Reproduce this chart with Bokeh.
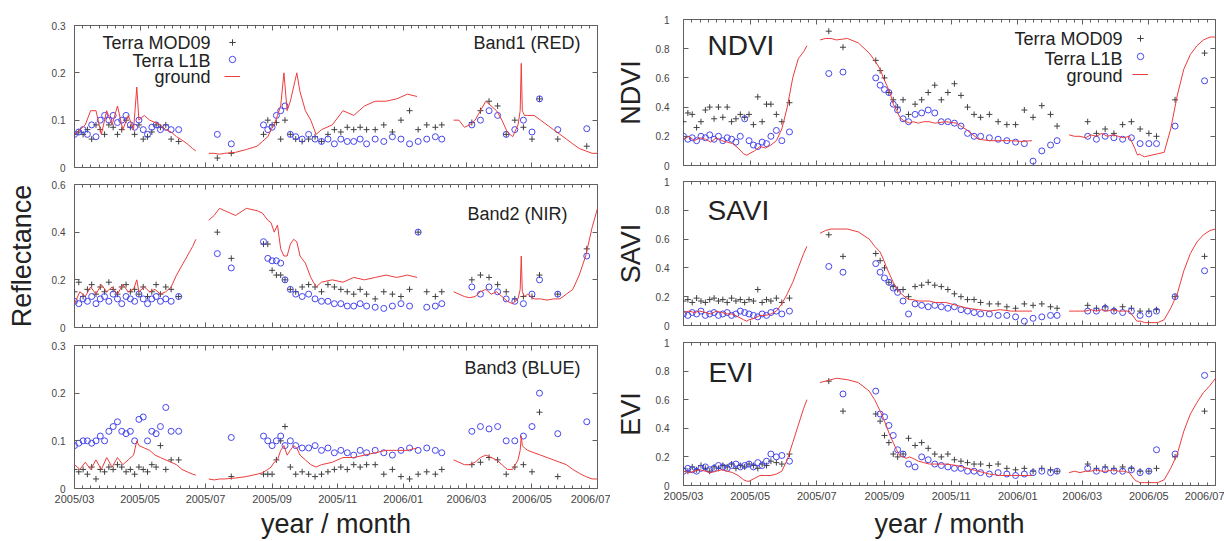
import math
from bokeh.plotting import figure
from bokeh.layouts import row, column
from bokeh.models import (Range1d, FixedTicker, LinearAxis, Label, Legend, LegendItem,
                          NumeralTickFormatter, CustomJSTickFormatter)
from bokeh.embed import file_html
from bokeh.resources import INLINE

NaN = float("nan")
FONT = "Liberation Sans"

# x axis: days since 2005-03-01
month_days = [0, 61, 122, 184, 245, 306, 365, 426, 487]
month_labels = ["2005/03", "2005/05", "2005/07", "2005/09", "2005/11",
                "2006/01", "2006/03", "2006/05", "2006/07"]

obs_days = [0, 4, 8, 12, 16, 20, 24, 28, 32, 36, 40, 44, 48, 52, 56, 60, 64, 68, 72, 76, 80, 85, 90, 97,
            133, 146,
            176, 180, 184, 188, 192, 196,
            201, 206, 212, 218, 224, 230, 236, 242, 248, 254, 260, 266, 272, 280, 288, 296, 304, 312, 320, 328, 336, 342,
            370, 378, 386, 394, 402, 410, 418, 426, 433, 450, 477]

ground_days = [0, 5, 10, 15, 20, 25, 30, 35, 40, 45, 50, 55, 58, 60, 65, 70, 75, 80, 85, 90, 95, 100, 105, 110, 113,
               125, 130, 135, 140, 150, 160, 170, 175, 180, 183, 186, 189, 192, 195, 198, 201, 204, 207, 210, 215,
               220, 225, 230, 240, 250, 260, 270, 280, 290, 300, 310, 319,
               353, 358, 363, 368, 373, 378, 383, 388, 393, 398, 403, 408, 413, 415, 416, 417, 419, 422, 428, 434,
               440, 446, 452, 458, 464, 470, 476, 482, 487]

# ---------------- Band1 (RED) ----------------
red_mod09 = [0.07, 0.075, 0.07, 0.08, 0.06, 0.09, 0.08, 0.07, 0.09, 0.085, 0.07, 0.08, 0.1, 0.085, 0.07, 0.09, 0.06, 0.065, 0.075, 0.09, 0.085, 0.09, 0.06, 0.055,
             0.02, 0.03,
             0.07, 0.1, 0.09, 0.095, 0.06, 0.1,
             0.07, 0.06, 0.055, 0.06, 0.065, 0.055, 0.07, 0.08, 0.075, 0.085, 0.08, 0.085, 0.08, 0.08, 0.09, 0.075, 0.1, 0.12, 0.08, 0.09, 0.085, 0.09,
             0.095, 0.12, 0.14, 0.13, 0.07, 0.1, 0.085, 0.06, 0.145, 0.06, 0.045]
red_l1b = [0.07, 0.075, 0.08, 0.07, 0.09, 0.065, 0.1, 0.11, 0.1, 0.11, 0.095, 0.1, 0.11, 0.09, 0.085, 0.1, 0.08, 0.07, 0.085, 0.09, 0.08, 0.085, 0.08, 0.08,
           0.07, 0.05,
           0.09, 0.08, 0.085, 0.11, 0.12, 0.13,
           0.07, 0.065, 0.06, 0.07, 0.06, 0.055, 0.06, 0.05, 0.06, 0.055, 0.055, 0.06, 0.05, 0.06, 0.055, 0.065, 0.06, 0.05, 0.055, 0.06, 0.065, 0.06,
           0.09, 0.1, 0.12, 0.11, 0.07, 0.08, 0.1, 0.075, 0.145, 0.08, 0.082]
red_ground = [0.07, 0.08, 0.09, 0.12, 0.12, 0.07, 0.12, 0.09, 0.13, 0.08, 0.11, 0.08, 0.17, 0.1, 0.11, 0.1, 0.095, 0.09, 0.08, 0.075, 0.065, 0.058, 0.05, 0.04, 0.035,
              0.03, 0.03, 0.028, 0.03, 0.032, 0.038, 0.045, 0.055, 0.065, 0.08, 0.09, 0.11, 0.13, 0.2, 0.12, 0.14, 0.17, 0.2, 0.16, 0.12,
              0.1, 0.07, 0.08, 0.09, 0.12, 0.11, 0.13, 0.14, 0.14, 0.145, 0.155, 0.15,
              0.1, 0.1, 0.085, 0.09, 0.1, 0.12, 0.14, 0.13, 0.12, 0.1, 0.075, 0.065, 0.09, 0.12, 0.22, 0.12, 0.11, 0.11, 0.11, 0.1,
              0.09, 0.08, 0.07, 0.06, 0.05, 0.04, 0.035, 0.03, 0.03]

# ---------------- Band2 (NIR) ----------------
nir_mod09 = [0.15, 0.19, 0.13, 0.16, 0.18, 0.14, 0.17, 0.15, 0.19, 0.16, 0.14, 0.17, 0.18, 0.15, 0.16, 0.14, 0.17, 0.13, 0.15, 0.18, 0.14, 0.17, 0.16, 0.13,
             0.4, 0.29,
             0.35, 0.35, 0.24, 0.22, 0.22, 0.2,
             0.16, 0.15, 0.17, 0.18, 0.17, 0.15, 0.18, 0.17, 0.16, 0.15, 0.14, 0.16, 0.14, 0.12, 0.15, 0.14, 0.13, 0.16, 0.4, 0.15, 0.13, 0.15,
             0.2, 0.22, 0.21, 0.18, 0.15, 0.12, 0.13, 0.13, 0.22, 0.14, 0.33]
nir_l1b = [0.11, 0.1, 0.12, 0.11, 0.13, 0.1, 0.12, 0.13, 0.11, 0.14, 0.12, 0.1, 0.13, 0.12, 0.11, 0.14, 0.12, 0.1, 0.12, 0.13, 0.11, 0.12, 0.11, 0.13,
           0.31, 0.25,
           0.36, 0.29, 0.28, 0.28, 0.27, 0.2,
           0.16, 0.14, 0.13, 0.14, 0.12, 0.11, 0.11, 0.1, 0.1, 0.09, 0.09, 0.1, 0.09, 0.085, 0.08, 0.09, 0.1, 0.09, 0.4, 0.085, 0.09, 0.1,
           0.17, 0.14, 0.17, 0.15, 0.12, 0.11, 0.1, 0.14, 0.2, 0.14, 0.3]
nir_ground = [0.1, 0.15, 0.13, 0.17, 0.14, 0.18, 0.15, 0.17, 0.14, 0.18, 0.15, 0.16, 0.2, 0.15, 0.17, 0.15, 0.16, 0.14, 0.15, 0.17, 0.22, 0.26, 0.3, 0.34, 0.37,
              0.45, 0.47, 0.5, 0.49, 0.47, 0.5, 0.49, 0.48, 0.45, 0.44, 0.4, 0.43, 0.33, 0.3, 0.3, 0.35, 0.37, 0.36, 0.3, 0.27,
              0.21, 0.17, 0.19, 0.2, 0.19, 0.21, 0.2, 0.21, 0.22, 0.21, 0.22, 0.21,
              0.15, 0.14, 0.13, 0.125, 0.13, 0.15, 0.16, 0.14, 0.15, 0.13, 0.11, 0.1, 0.12, 0.16, 0.3, 0.15, 0.13, 0.14, 0.12, 0.12,
              0.115, 0.12, 0.12, 0.14, 0.16, 0.22, 0.3, 0.42, 0.5]

# ---------------- Band3 (BLUE) ----------------
blue_mod09 = [0.04, 0.035, 0.04, 0.03, 0.045, 0.02, 0.04, 0.035, 0.045, 0.04, 0.05, 0.045, 0.035, 0.04, 0.03, 0.045, 0.04, 0.035, 0.05, 0.045, 0.09, 0.04, 0.06, 0.06,
              NaN, 0.025,
              0.03, 0.03, 0.03, 0.06, 0.1, 0.13,
              0.045, 0.03, 0.035, 0.03, 0.025, 0.03, 0.035, 0.04, 0.045, 0.04, 0.05, 0.045, 0.05, 0.05, 0.03, 0.04, 0.025, 0.02, 0.03, 0.035, 0.03, 0.04,
              0.05, 0.055, 0.065, 0.06, 0.03, 0.045, 0.05, 0.035, 0.16, 0.025, NaN]
blue_l1b = [0.09, 0.095, 0.1, 0.1, 0.095, 0.1, 0.11, 0.1, 0.12, 0.13, 0.14, 0.12, 0.115, 0.12, 0.1, 0.145, 0.15, 0.1, 0.12, 0.115, 0.13, 0.17, 0.12, 0.12,
            NaN, 0.107,
            0.11, 0.1, 0.09, 0.1, 0.11, 0.09,
            0.1, 0.09, 0.085, 0.085, 0.09, 0.08, 0.085, 0.075, 0.08, 0.075, 0.07, 0.08, 0.075, 0.08, 0.075, 0.07, 0.08, 0.085, 0.08, 0.085, 0.08, 0.075,
            0.12, 0.13, 0.125, 0.13, 0.1, 0.1, 0.11, 0.13, 0.2, 0.115, 0.14]
blue_ground = [0.05, 0.04, 0.055, 0.04, 0.06, 0.04, 0.065, 0.045, 0.065, 0.05, 0.06, 0.07, 0.1, 0.09, 0.085, 0.08, 0.07, 0.065, 0.06, 0.055, 0.05, 0.04, 0.035, 0.03, 0.028,
               0.02, 0.018, 0.02, 0.02, 0.022, 0.025, 0.03, 0.033, 0.04, 0.045, 0.055, 0.06, 0.08, 0.09, 0.07, 0.08, 0.09, 0.085, 0.07, 0.06,
               0.05, 0.045, 0.05, 0.055, 0.065, 0.065, 0.07, 0.075, 0.08, 0.08, 0.08, 0.085,
               0.06, 0.055, 0.05, 0.05, 0.055, 0.065, 0.07, 0.065, 0.06, 0.05, 0.04, 0.04, 0.06, 0.08, 0.11, 0.09, 0.085, 0.08, 0.075, 0.07,
               0.065, 0.06, 0.055, 0.05, 0.04, 0.032, 0.025, 0.02, 0.02]

# ---------------- NDVI ----------------
ndvi_mod09 = [0.3, 0.36, 0.35, 0.26, 0.3, 0.38, 0.4, 0.32, 0.4, 0.33, 0.4, 0.3, 0.32, 0.35, 0.33, 0.35, 0.28, 0.47, 0.3, 0.42, 0.42, 0.35, 0.3, 0.43,
              0.92, 0.81,
              0.72, 0.65, 0.6, 0.5, 0.45, 0.4,
              0.45, 0.35, 0.42, 0.45, 0.5, 0.55, 0.45, 0.5, 0.56, 0.48, 0.4, 0.35, 0.33, 0.35, 0.3, 0.28, 0.28, 0.38, 0.33, 0.41, 0.35, 0.27,
              0.3, 0.22, 0.25, 0.22, 0.28, 0.3, 0.25, 0.22, 0.2, 0.45, 0.77]
ndvi_l1b = [0.2, 0.18, 0.19, 0.17, 0.2, 0.19, 0.21, 0.18, 0.2, 0.17, 0.19, 0.18, 0.16, 0.2, 0.32, 0.17, 0.14, 0.13, 0.16, 0.15, 0.2, 0.24, 0.17, 0.23,
            0.63, 0.64,
            0.6, 0.55, 0.52, 0.5, 0.42, 0.38,
            0.32, 0.3, 0.35, 0.36, 0.38, 0.36, 0.3, 0.3, 0.29, 0.27, 0.22, 0.2, 0.2, 0.19, 0.18, 0.17, 0.16, 0.15, 0.03, 0.1, 0.14, 0.17,
            0.2, 0.18, 0.2, 0.19, 0.18, 0.19, 0.15, 0.15, 0.15, 0.27, 0.58]
ndvi_ground = [0.18, 0.2, 0.17, 0.19, 0.18, 0.16, 0.19, 0.17, 0.16, 0.15, 0.12, 0.08, 0.07, 0.08, 0.1, 0.13, 0.12, 0.14, 0.17, 0.25, 0.4, 0.6, 0.73, 0.78, 0.82,
               0.86, 0.87, 0.87, 0.86, 0.87, 0.84, 0.77, 0.72, 0.66, 0.6, 0.55, 0.5, 0.42, 0.38, 0.33, 0.31, 0.3, 0.29, 0.3, 0.29,
               0.3, 0.3, 0.29, 0.3, 0.29, 0.24, 0.18, 0.17, 0.17, 0.17, 0.165, 0.17,
               0.21, 0.2, 0.2, 0.19, 0.21, 0.2, 0.22, 0.2, 0.21, 0.2, 0.19, 0.2, 0.12, 0.08, 0.07, 0.08, 0.07, 0.06, 0.07, 0.08,
               0.09, 0.25, 0.48, 0.66, 0.76, 0.82, 0.86, 0.88, 0.88]

# ---------------- SAVI ----------------
savi_mod09 = [0.17, 0.18, 0.16, 0.19, 0.17, 0.16, 0.18, 0.19, 0.17, 0.18, 0.16, 0.19, 0.17, 0.18, 0.16, 0.18, 0.17, 0.25, 0.16, 0.18, 0.17, 0.19, 0.16, 0.19,
              0.63, 0.48,
              0.5, 0.45, 0.4, 0.3, 0.27, 0.25,
              0.25, 0.2, 0.27, 0.28, 0.3, 0.28, 0.27, 0.25, 0.22, 0.2, 0.18, 0.18, 0.16, 0.15, 0.15, 0.13, 0.12, 0.15, 0.14, 0.15, 0.13, 0.12,
              0.14, 0.12, 0.13, 0.11, 0.13, 0.12, 0.1, 0.1, 0.11, 0.2, 0.48]
savi_l1b = [0.08, 0.07, 0.09, 0.08, 0.1, 0.07, 0.08, 0.09, 0.07, 0.08, 0.09, 0.07, 0.08, 0.1, 0.09, 0.08, 0.07, 0.06, 0.08, 0.07, 0.09, 0.1, 0.08, 0.1,
            0.41, 0.37,
            0.43, 0.37, 0.33, 0.3, 0.26, 0.23,
            0.17, 0.08, 0.15, 0.14, 0.13, 0.14, 0.13, 0.12, 0.13, 0.11, 0.1, 0.09, 0.08, 0.08, 0.07, 0.07, 0.06, 0.03, 0.05, 0.06, 0.07, 0.07,
            0.1, 0.1, 0.12, 0.1, 0.09, 0.1, 0.07, 0.08, 0.1, 0.2, 0.38]
savi_ground = [0.09, 0.1, 0.09, 0.1, 0.09, 0.08, 0.1, 0.09, 0.08, 0.08, 0.06, 0.04, 0.03, 0.04, 0.05, 0.07, 0.07, 0.08, 0.1, 0.15, 0.22, 0.3, 0.4, 0.5, 0.55,
               0.64, 0.66, 0.67, 0.67, 0.67, 0.65, 0.6, 0.55, 0.51, 0.46, 0.4, 0.35, 0.3, 0.26, 0.23, 0.21, 0.19, 0.18, 0.18, 0.17,
               0.17, 0.17, 0.16, 0.16, 0.14, 0.12, 0.11, 0.1, 0.11, 0.1, 0.1, 0.1,
               0.1, 0.1, 0.1, 0.1, 0.11, 0.1, 0.11, 0.1, 0.11, 0.1, 0.1, 0.1, 0.05, 0.03, 0.03, 0.03, 0.03, 0.02, 0.02, 0.02,
               0.04, 0.12, 0.22, 0.38, 0.5, 0.58, 0.63, 0.66, 0.67]

# ---------------- EVI ----------------
evi_mod09 = [0.12, 0.1, 0.13, 0.11, 0.14, 0.12, 0.1, 0.13, 0.12, 0.14, 0.13, 0.15, 0.12, 0.14, 0.13, 0.15, 0.14, 0.12, 0.15, 0.14, 0.17, 0.16, 0.15, 0.22,
             0.73, 0.52,
             0.5, 0.45, 0.35, 0.3, 0.22, 0.2,
             0.22, 0.33, 0.28, 0.3, 0.26, 0.22, 0.2, 0.22, 0.18, 0.17, 0.16, 0.15, 0.15, 0.14, 0.15, 0.12, 0.11, 0.12, 0.1, 0.12, 0.11, 0.1,
             0.15, 0.12, 0.13, 0.12, 0.13, 0.12, 0.1, 0.1, 0.12, 0.2, 0.52]
evi_l1b = [0.1, 0.12, 0.11, 0.1, 0.12, 0.13, 0.11, 0.12, 0.14, 0.13, 0.12, 0.14, 0.15, 0.13, 0.14, 0.15, 0.13, 0.16, 0.14, 0.17, 0.22, 0.2, 0.21, 0.17,
           NaN, 0.64,
           0.66, 0.5, 0.48, 0.42, 0.35, 0.25,
           0.22, 0.15, 0.13, 0.2, 0.18, 0.15, 0.14, 0.13, 0.12, 0.12, 0.1, 0.1, 0.09, 0.08, 0.09, 0.08, 0.07, 0.08, 0.09, 0.1, 0.09, 0.1,
           0.12, 0.1, 0.11, 0.1, 0.1, 0.11, 0.09, 0.1, 0.25, 0.22, 0.77]
evi_ground = [0.1, 0.09, 0.1, 0.11, 0.1, 0.09, 0.1, 0.11, 0.1, 0.09, 0.07, 0.04, 0.03, 0.03, 0.05, 0.07, 0.07, 0.07, 0.08, 0.1, 0.18, 0.3, 0.42, 0.54, 0.6,
              0.72, 0.73, 0.74, 0.75, 0.74, 0.72, 0.66, 0.6, 0.52, 0.47, 0.41, 0.35, 0.3, 0.25, 0.21, 0.2, 0.19, 0.2, 0.19, 0.17,
              0.16, 0.15, 0.15, 0.15, 0.14, 0.12, 0.1, 0.08, 0.07, 0.07, 0.07, 0.07,
              0.09, 0.1, 0.09, 0.1, 0.1, 0.11, 0.1, 0.1, 0.11, 0.1, 0.1, 0.09, 0.04, 0.03, 0.03, 0.02, 0.02, 0.02, 0.02, 0.02,
              0.04, 0.12, 0.22, 0.38, 0.5, 0.58, 0.65, 0.7, 0.75]

for name, arr, n in [("red_mod09", red_mod09, len(obs_days)), ("red_l1b", red_l1b, len(obs_days)),
                     ("nir_mod09", nir_mod09, len(obs_days)), ("nir_l1b", nir_l1b, len(obs_days)),
                     ("blue_mod09", blue_mod09, len(obs_days)), ("blue_l1b", blue_l1b, len(obs_days)),
                     ("ndvi_mod09", ndvi_mod09, len(obs_days)), ("ndvi_l1b", ndvi_l1b, len(obs_days)),
                     ("savi_mod09", savi_mod09, len(obs_days)), ("savi_l1b", savi_l1b, len(obs_days)),
                     ("evi_mod09", evi_mod09, len(obs_days)), ("evi_l1b", evi_l1b, len(obs_days)),
                     ("red_ground", red_ground, len(ground_days)), ("nir_ground", nir_ground, len(ground_days)),
                     ("blue_ground", blue_ground, len(ground_days)), ("ndvi_ground", ndvi_ground, len(ground_days)),
                     ("savi_ground", savi_ground, len(ground_days)), ("evi_ground", evi_ground, len(ground_days))]:
    assert len(arr) == n, (name, len(arr), n)

MOD_C = "#404040"
L1B_C = "#4646f0"
GRD_C = "#ec3c3c"
FRAME_C = "#606060"
TXT_C = "#222222"

minor_days = []
for a, b in zip(month_days[:-1], month_days[1:]):
    for k in range(1, 8):
        minor_days.append(a + (b - a) * k / 8.0)


def with_gaps(days, vals, maxgap=11):
    xs, ys = [], []
    for i, (d, v) in enumerate(zip(days, vals)):
        if i > 0 and d - days[i - 1] > maxgap:
            xs.append(NaN)
            ys.append(NaN)
        xs.append(d)
        ys.append(v)
    return xs, ys


def style_axis(ax, ticker, labels):
    ax.ticker = ticker
    ax.axis_line_color = None
    ax.major_tick_in = 5
    ax.major_tick_out = 0
    ax.minor_tick_in = 3
    ax.minor_tick_out = 0
    ax.major_tick_line_color = FRAME_C
    ax.minor_tick_line_color = FRAME_C
    if not labels:
        ax.formatter = CustomJSTickFormatter(code="return ''")
        ax.major_label_text_font_size = "0px"
        ax.major_label_standoff = 0


def txt(p, x, y, s, size, align="left"):
    p.add_layout(Label(x=x, y=y, x_units="screen", y_units="screen", text=s, text_font=FONT,
                       text_font_size=size, text_align=align, text_baseline="middle", text_color=TXT_C))


def panel(w, h, borders, ymax, yticks, mod, l1b, grd, ystand, xlabel_standoff=None):
    bl, br, bt, bb = borders
    p = figure(width=w, height=h, x_range=Range1d(0, 487), y_range=Range1d(0, ymax),
               output_backend="svg", toolbar_location=None, tools="",
               min_border_left=bl, min_border_right=br, min_border_top=bt, min_border_bottom=bb)
    p.grid.visible = False
    p.outline_line_color = FRAME_C
    p.outline_line_width = 1
    xt = FixedTicker(ticks=month_days, minor_ticks=minor_days)
    yt = FixedTicker(ticks=yticks, minor_ticks=[])
    xa = p.xaxis[0]
    bottom_labels = xlabel_standoff is not None
    style_axis(xa, xt, bottom_labels)
    if bottom_labels:
        xa.major_label_overrides = {d: lab for d, lab in zip(month_days, month_labels)}
        xa.major_label_text_font = FONT
        xa.major_label_text_font_size = "11px"
        xa.major_label_text_color = "#444444"
        xa.major_label_standoff = 4
        xa.axis_label = "year / month"
        xa.axis_label_text_font = FONT
        xa.axis_label_text_font_size = "27px"
        xa.axis_label_text_font_style = "normal"
        xa.axis_label_text_color = TXT_C
        xa.axis_label_standoff = xlabel_standoff
    ya = p.yaxis[0]
    style_axis(ya, yt, True)
    ya.formatter = NumeralTickFormatter(format="0.[0]")
    ya.major_label_text_font = FONT
    ya.major_label_text_font_size = "10px"
    ya.major_label_text_color = "#444444"
    ya.major_label_standoff = ystand
    top = LinearAxis()
    style_axis(top, FixedTicker(ticks=month_days, minor_ticks=minor_days), False)
    p.add_layout(top, "above")
    right = LinearAxis()
    style_axis(right, FixedTicker(ticks=yticks, minor_ticks=[]), False)
    p.add_layout(right, "right")

    r_mod = p.scatter(obs_days, mod, marker="cross", size=6, line_color=MOD_C, line_width=1)
    r_l1b = p.scatter(obs_days, l1b, marker="circle", size=6, line_color=L1B_C, fill_color=None, line_width=1)
    gx, gy = with_gaps(ground_days, grd)
    r_grd = p.line(gx, gy, line_color=GRD_C, line_width=1)
    return p, (r_mod, r_l1b, r_grd)


def legend(p, rs, loc, spacing, tx, tys):
    items = [LegendItem(label="", renderers=[r]) for r in rs]
    lg = Legend(items=items, location=loc, orientation="vertical", glyph_width=16, glyph_height=16,
                spacing=spacing, padding=0, margin=0, label_width=0, label_height=16, label_standoff=0,
                label_text_font_size="8px", border_line_color=None, background_fill_alpha=0)
    p.add_layout(lg, "center")
    for s, ty in zip(["Terra MOD09", "Terra L1B", "ground"], tys):
        txt(p, tx, ty, s, "18px", "right")


LW = 610
RW = 614
# left column  (frames x 74..597)
b1, rb1 = panel(LW, 175, (74, 13, 25, 8), 0.3, [0, 0.1, 0.2, 0.3], red_mod09, red_l1b, red_ground, 9)
b2, rb2 = panel(LW, 161, (74, 13, 9, 9), 0.6, [0, 0.2, 0.4, 0.6], nir_mod09, nir_l1b, nir_ground, 9)
b3, rb3 = panel(LW, 205, (74, 13, 9, 53), 0.3, [0, 0.1, 0.2, 0.3], blue_mod09, blue_l1b, blue_ground, 9, 1)
ya = b2.yaxis[0]
ya.axis_label = "Reflectance"
ya.axis_label_text_font = FONT
ya.axis_label_text_font_size = "27px"
ya.axis_label_text_font_style = "normal"
ya.axis_label_text_color = TXT_C
ya.axis_label_standoff = 12

txt(b1, 506, 125, "Band1 (RED)", "18px", "right")
txt(b2, 493, 114, "Band2 (NIR)", "18px", "right")
txt(b3, 506, 121, "Band3 (BLUE)", "18px", "right")
legend(b1, rb1, (150, 83), 1, 136, [125, 107, 91])

# right column  (frames x 683..1215)
vt = [0, 0.2, 0.4, 0.6, 0.8, 1]
n1, rn1 = panel(RW, 173, (73, 9, 19, 8), 1.0, vt, ndvi_mod09, ndvi_l1b, ndvi_ground, 14)
n2, rn2 = panel(RW, 160, (73, 9, 8, 8), 1.0, vt, savi_mod09, savi_l1b, savi_ground, 14)
n3, rn3 = panel(RW, 208, (73, 9, 9, 56), 1.0, vt, evi_mod09, evi_l1b, evi_ground, 14, 4)
for p, lab in [(n1, "NDVI"), (n2, "SAVI"), (n3, "EVI")]:
    ya = p.yaxis[0]
    ya.axis_label = lab
    ya.axis_label_text_font = FONT
    ya.axis_label_text_font_size = "27px"
    ya.axis_label_text_font_style = "normal"
    ya.axis_label_text_color = TXT_C
    ya.axis_label_standoff = 7
txt(n1, 24, 120, "NDVI", "28px")
txt(n2, 24, 115, "SAVI", "28px")
txt(n3, 25, 113, "EVI", "28px")
legend(n1, rn1, (449, 83), 2, 439, [127, 107, 90])

layout = row(column(b1, b2, b3), column(n1, n2, n3))
open("out.html", "w").write(file_html(layout, INLINE))
